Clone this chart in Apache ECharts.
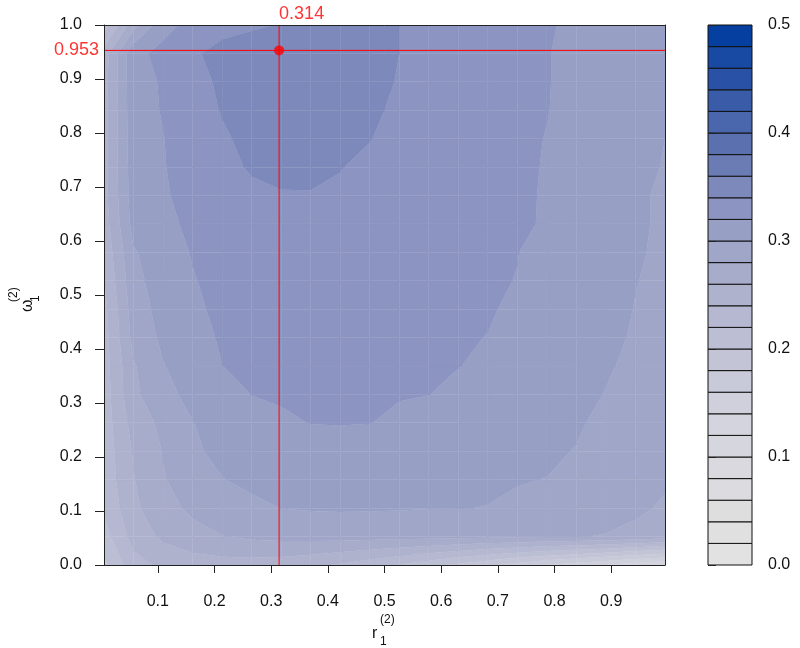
<!DOCTYPE html>
<html><head><meta charset="utf-8">
<script src="https://cdn.jsdelivr.net/npm/echarts@6.0.0/dist/echarts.min.js"></script>
<style>html,body{margin:0;padding:0;background:#fff}#c{width:800px;height:648px}</style>
</head><body><div id="c"></div><script>
// grid of r values (columns) and omega values (rows)
const rValues = [0.005, 0.0571, 0.1092, 0.1613, 0.2134, 0.2655, 0.3176, 0.3697, 0.4218, 0.4739,
                 0.5261, 0.5782, 0.6303, 0.6824, 0.7345, 0.7866, 0.8387, 0.8908, 0.9429, 0.995];
const omegaValues = [0, 0.0526, 0.1053, 0.1579, 0.2105, 0.2632, 0.3158, 0.3684, 0.4211, 0.4737,
                     0.5263, 0.5789, 0.6316, 0.6842, 0.7368, 0.7895, 0.8421, 0.8947, 0.9474, 1.0];
// z values, one row per omega value (bottom row first), one entry per r value
const zRows = [
 [0.195, 0.232, 0.245, 0.250, 0.252, 0.252, 0.250, 0.245, 0.238, 0.229, 0.219, 0.208, 0.196, 0.184, 0.172, 0.160, 0.150, 0.140, 0.130, 0.120],
 [0.212, 0.248, 0.264, 0.2735, 0.2795, 0.2835, 0.2855, 0.2865, 0.287, 0.287, 0.2865, 0.286, 0.285, 0.2838, 0.2825, 0.2815, 0.2808, 0.279, 0.275, 0.270],
 [0.222, 0.256, 0.273, 0.284, 0.291, 0.2965, 0.3002, 0.3015, 0.302, 0.3018, 0.3012, 0.3005, 0.3002, 0.2998, 0.2985, 0.297, 0.2925, 0.2885, 0.2835, 0.2775],
 [0.227, 0.259, 0.2785, 0.291, 0.2995, 0.3035, 0.306, 0.3075, 0.308, 0.3075, 0.3065, 0.305, 0.303, 0.3015, 0.3005, 0.2998, 0.2965, 0.2925, 0.2875, 0.2825],
 [0.228, 0.262, 0.281, 0.2975, 0.304, 0.309, 0.3125, 0.3145, 0.315, 0.3145, 0.313, 0.3115, 0.3095, 0.307, 0.3045, 0.302, 0.2995, 0.2955, 0.291, 0.287],
 [0.229, 0.268, 0.285, 0.2995, 0.3085, 0.3145, 0.318, 0.3203, 0.3205, 0.3202, 0.3185, 0.316, 0.3135, 0.311, 0.308, 0.305, 0.3015, 0.297, 0.2925, 0.2885],
 [0.230, 0.276, 0.2935, 0.306, 0.314, 0.3202, 0.3215, 0.322, 0.3215, 0.3208, 0.3205, 0.3201, 0.318, 0.3155, 0.3125, 0.309, 0.304, 0.2995, 0.295, 0.291],
 [0.231, 0.278, 0.299, 0.311, 0.3199, 0.323, 0.325, 0.3255, 0.3245, 0.3225, 0.3215, 0.3205, 0.3202, 0.3185, 0.316, 0.313, 0.3075, 0.3015, 0.297, 0.293],
 [0.232, 0.286, 0.304, 0.315, 0.3215, 0.325, 0.327, 0.327, 0.326, 0.324, 0.322, 0.3205, 0.3205, 0.3199, 0.318, 0.3155, 0.3095, 0.3035, 0.2985, 0.2945],
 [0.234, 0.290, 0.307, 0.317, 0.3235, 0.327, 0.329, 0.329, 0.328, 0.326, 0.3235, 0.3215, 0.3205, 0.3205, 0.319, 0.317, 0.311, 0.305, 0.2995, 0.2955],
 [0.240, 0.294, 0.310, 0.319, 0.325, 0.329, 0.331, 0.331, 0.330, 0.328, 0.325, 0.3225, 0.321, 0.3205, 0.3199, 0.318, 0.312, 0.306, 0.3005, 0.2965],
 [0.245, 0.298, 0.312, 0.321, 0.327, 0.331, 0.333, 0.333, 0.332, 0.3295, 0.3265, 0.3235, 0.3215, 0.3205, 0.3201, 0.3185, 0.3125, 0.3065, 0.3015, 0.2975],
 [0.250, 0.307, 0.315, 0.324, 0.330, 0.334, 0.336, 0.336, 0.335, 0.332, 0.329, 0.3255, 0.323, 0.3215, 0.321, 0.3194, 0.313, 0.307, 0.302, 0.298],
 [0.253, 0.310, 0.318, 0.326, 0.333, 0.337, 0.339, 0.3393, 0.338, 0.335, 0.331, 0.327, 0.324, 0.322, 0.321, 0.3195, 0.313, 0.307, 0.3015, 0.2985],
 [0.253, 0.311, 0.319, 0.328, 0.336, 0.3415, 0.344, 0.343, 0.3405, 0.337, 0.333, 0.329, 0.326, 0.3235, 0.3215, 0.3195, 0.314, 0.308, 0.3025, 0.2995],
 [0.253, 0.312, 0.3195, 0.330, 0.338, 0.344, 0.347, 0.347, 0.345, 0.3405, 0.335, 0.331, 0.328, 0.325, 0.322, 0.3197, 0.315, 0.309, 0.304, 0.300],
 [0.253, 0.313, 0.321, 0.332, 0.341, 0.347, 0.350, 0.350, 0.348, 0.343, 0.337, 0.333, 0.330, 0.327, 0.324, 0.3203, 0.317, 0.314, 0.311, 0.3075],
 [0.252, 0.314, 0.3215, 0.334, 0.343, 0.349, 0.353, 0.353, 0.350, 0.345, 0.339, 0.335, 0.331, 0.328, 0.325, 0.3205, 0.317, 0.314, 0.311, 0.308],
 [0.250, 0.315, 0.325, 0.337, 0.347, 0.352, 0.356, 0.355, 0.352, 0.347, 0.340, 0.336, 0.332, 0.328, 0.325, 0.3205, 0.317, 0.314, 0.311, 0.308],
 [0.209, 0.272, 0.314, 0.326, 0.333, 0.337, 0.341, 0.343, 0.343, 0.342, 0.340, 0.336, 0.332, 0.328, 0.325, 0.321, 0.318, 0.315, 0.312, 0.309]
];
const levels = [0, 0.02, 0.04, 0.06, 0.08, 0.10, 0.12, 0.14, 0.16, 0.18, 0.20, 0.22, 0.24,
                0.26, 0.28, 0.30, 0.32, 0.34, 0.36, 0.38, 0.40, 0.42, 0.44, 0.46, 0.48, 0.50];
const bandColors = ['#e2e2e2','#e0e0e1','#dededf','#dcdce0','#d9d9df','#d6d7de','#d3d4dd','#cfd0db',
                    '#c9cad9','#c3c5d6','#bcbfd3','#b5b8d0','#aeb2cd','#a7accb','#a0a6c8','#979fc5',
                    '#8c95c1','#7d89ba','#6b7cb4','#5b71af','#4a66ac','#3a5ca8','#2952a6','#1849a3','#0540a1'];
const xTickValues = [0.1, 0.2, 0.3, 0.4, 0.5, 0.6, 0.7, 0.8, 0.9];
const yTickValues = [0, 0.1, 0.2, 0.3, 0.4, 0.5, 0.6, 0.7, 0.8, 0.9, 1.0];
const legendTickValues = [0, 0.1, 0.2, 0.3, 0.4, 0.5];
const optR = 0.314;
const optOmega = 0.953;

const FONT = 'Liberation Sans, Arial, Helvetica, sans-serif';
const chart = echarts.init(document.getElementById('c'), null, {renderer: 'canvas'});

const cells = [];
for (let j = 0; j < omegaValues.length - 1; j++)
  for (let i = 0; i < rValues.length - 1; i++) cells.push([i, j]);

// values lying exactly on a contour level are nudged so they belong to one band only
function onLevelSafe(z) {
  for (const L of levels) if (Math.abs(z - L) < 1e-12) return z + 1e-7;
  return z;
}

function renderCell(params, api) {
  const i = api.value(0), j = api.value(1);
  const idx = [[i, j], [i + 1, j], [i + 1, j + 1], [i, j + 1]];
  const c = idx.map(([a, b]) => ({x: rValues[a], y: omegaValues[b], z: onLevelSafe(zRows[b][a])}));
  const zs = c.map(p => p.z);
  const zmin = Math.min(...zs), zmax = Math.max(...zs);
  const children = [];
  for (let k = 0; k < levels.length - 1; k++) {
    const lo = levels[k], hi = levels[k + 1];
    if (zmax < lo || zmin >= hi) continue;
    const pts = [];
    for (let e = 0; e < 4; e++) {
      const a = c[e], b = c[(e + 1) % 4];
      if (a.z >= lo && a.z < hi) pts.push([a.x, a.y]);
      const cr = [];
      [lo, hi].forEach(L => {
        if ((a.z - L) * (b.z - L) < 0) {
          const t = (L - a.z) / (b.z - a.z);
          cr.push([t, a.x + t * (b.x - a.x), a.y + t * (b.y - a.y)]);
        }
      });
      cr.sort((p, q) => p[0] - q[0]).forEach(p => pts.push([p[1], p[2]]));
    }
    if (pts.length >= 3) {
      children.push({
        type: 'polygon',
        shape: {points: pts.map(p => api.coord(p))},
        style: {fill: bandColors[k], stroke: bandColors[k], lineWidth: 0.35}
      });
    }
  }
  return {type: 'group', children};
}

const legendData = bandColors.map((col, k) => [levels[k], levels[k + 1], k]);
function renderLegend(params, api) {
  const p0 = api.coord([0, api.value(0)]);
  const p1 = api.coord([1, api.value(1)]);
  return {
    type: 'rect',
    shape: {x: p0[0], y: p1[1], width: p1[0] - p0[0], height: p0[1] - p1[1]},
    style: {fill: bandColors[api.value(2)], stroke: '#111', lineWidth: 1}
  };
}

const labelStyle = {fontSize: 16, color: '#111', fontFamily: FONT};

chart.setOption({
  animation: false,
  backgroundColor: '#fff',
  grid: [
    {left: 104, right: 135, top: 25, bottom: 83, containLabel: false},
    {left: 708, width: 44, top: 25, bottom: 83, containLabel: false}
  ],
  xAxis: [
    {type: 'value', gridIndex: 0, min: 0.005, max: 0.995, position: 'bottom', z: 10,
     axisLine: {show: true, onZero: false, lineStyle: {color: '#222', width: 1}},
     axisTick: {show: true, customValues: xTickValues, length: 8, lineStyle: {color: '#222'}},
     axisLabel: Object.assign({customValues: xTickValues, formatter: v => v.toFixed(1), margin: 29}, labelStyle),
     splitLine: {show: false}},
    {type: 'value', gridIndex: 0, min: 0.005, max: 0.995, position: 'top', z: 10,
     axisLine: {show: true, onZero: false, lineStyle: {color: '#222', width: 1}},
     axisTick: {show: false}, axisLabel: {show: false}, splitLine: {show: false}},
    {type: 'value', gridIndex: 1, min: 0, max: 1, show: false}
  ],
  yAxis: [
    {type: 'value', gridIndex: 0, min: 0, max: 1, interval: 0.1, position: 'left', z: 10,
     axisLine: {show: true, onZero: false, lineStyle: {color: '#222', width: 1}},
     axisTick: {show: true, length: 9, lineStyle: {color: '#222'}},
     axisLabel: Object.assign({customValues: yTickValues, formatter: v => v.toFixed(1), margin: 22}, labelStyle),
     splitLine: {show: false}},
    {type: 'value', gridIndex: 0, min: 0, max: 1, position: 'right', z: 10,
     axisLine: {show: true, onZero: false, lineStyle: {color: '#222', width: 1}},
     axisTick: {show: false}, axisLabel: {show: false}, splitLine: {show: false}},
    {type: 'value', gridIndex: 1, min: 0, max: 0.5, interval: 0.1, position: 'right', z: 10,
     axisLine: {show: false},
     axisTick: {show: true, length: 8, lineStyle: {color: '#222'}},
     axisLabel: Object.assign({customValues: legendTickValues, formatter: v => v.toFixed(1), margin: 16}, labelStyle),
     splitLine: {show: false}}
  ],
  series: [
    {type: 'custom', xAxisIndex: 0, yAxisIndex: 0, data: cells, renderItem: renderCell, clip: true, z: 1, silent: true},
    {type: 'custom', xAxisIndex: 2, yAxisIndex: 2, data: legendData, renderItem: renderLegend, z: 1, silent: true},
    {type: 'line', xAxisIndex: 0, yAxisIndex: 0, data: [[optR, 0], [optR, 1]], symbol: 'none', z: 5,
     lineStyle: {color: '#ff0000', width: 1}, silent: true},
    {type: 'line', xAxisIndex: 0, yAxisIndex: 0, data: [[0.005, optOmega], [0.995, optOmega]], symbol: 'none', z: 5,
     lineStyle: {color: '#ff0000', width: 1}, silent: true},
    {type: 'scatter', xAxisIndex: 0, yAxisIndex: 0, data: [[optR, optOmega]], symbol: 'circle', symbolSize: 10, z: 6,
     itemStyle: {color: '#ff0000'}, silent: true},
    {type: 'scatter', xAxisIndex: 0, yAxisIndex: 0, clip: false, symbolSize: 0, z: 6, silent: true,
     data: [
       {value: [0.005, optOmega], label: {show: true, position: 'left', distance: 5, formatter: optOmega.toFixed(3)}},
       {value: [optR, 1], label: {show: true, position: 'top', distance: 2, align: 'left', formatter: optR.toFixed(3)}}
     ],
     label: {color: '#ff0000', fontSize: 18, fontFamily: FONT}}
  ],
  graphic: [
    {type: 'group', left: 372, top: 614, children: [
      {type: 'text', x: 0, y: 12, style: {text: 'r', font: '16px ' + FONT, fill: '#111'}},
      {type: 'text', x: 8, y: 0, style: {text: '(2)', font: '12px ' + FONT, fill: '#111'}},
      {type: 'text', x: 8, y: 22, style: {text: '1', font: '12px ' + FONT, fill: '#111'}}
    ]},
    {type: 'group', x: 20, y: 312, rotation: Math.PI / 2, children: [
      {type: 'text', x: 0, y: 0, style: {text: 'ω', font: '16px ' + FONT, fill: '#111'}},
      {type: 'text', x: 10, y: 10, style: {text: '1', font: '12px ' + FONT, fill: '#111'}},
      {type: 'text', x: 10, y: -12, style: {text: '(2)', font: '12px ' + FONT, fill: '#111'}}
    ]}
  ]
});
</script></body></html>
